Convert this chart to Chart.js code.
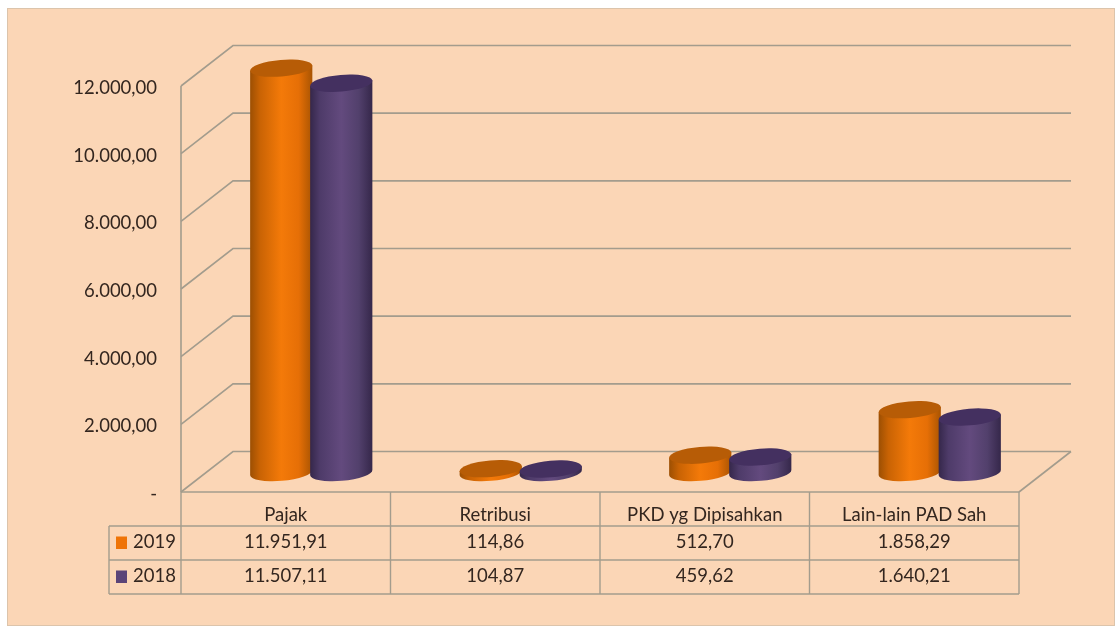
<!DOCTYPE html>
<html><head><meta charset="utf-8">
<style>html,body{margin:0;padding:0;background:#fff}canvas{display:block}</style>
<script src="https://cdn.jsdelivr.net/npm/chart.js@4"></script>
</head><body>
<canvas id="c" width="1118" height="626"></canvas>
<script>
const categories = ["Pajak", "Retribusi", "PKD yg Dipisahkan", "Lain-lain PAD Sah"];
const values2019 = [11951.91, 114.86, 512.70, 1858.29];
const values2018 = [11507.11, 104.87, 459.62, 1640.21];
const seriesNames = ["2019", "2018"];
const yTickLabels = ["-", "2.000,00", "4.000,00", "6.000,00", "8.000,00", "10.000,00", "12.000,00"];
const tableRows2019 = ["11.951,91", "114,86", "512,70", "1.858,29"];
const tableRows2018 = ["11.507,11", "104,87", "459,62", "1.640,21"];

const FAMILY = 'Lato, "Open Sans", sans-serif';
const FONT = '18.5px ' + FAMILY;
const TEXT = '#33261f', GRID = '#a39c8d';
const DEPTH = {x: 52, y: -40.5};
const palette = [
  {base:'#ef7407', top:'#b75c06', stops:['#9c4f03','#c96304','#f47a09','#e66f06','#a85402']},
  {base:'#5b4478', top:'#443060', stops:['#35274a','#4e3b69','#634a7e','#52406c','#35274a']}
];

function line(ctx, x1, y1, x2, y2){ctx.beginPath();ctx.moveTo(x1,y1);ctx.lineTo(x2,y2);ctx.stroke();}

function cylinder(ctx, el, p){
  const cx = el.x + 25.5, topY = el.y + DEPTH.y/2 + 0.8, botY = el.base + DEPTH.y/2 + 0.8;
  const rx = el.width/2, ry = 8.3, rot = -0.085;
  const sx = rx*Math.cos(rot), sy = rx*Math.sin(rot);
  const g = ctx.createLinearGradient(cx-rx,0,cx+rx,0);
  g.addColorStop(0,p.stops[0]);g.addColorStop(.16,p.stops[1]);g.addColorStop(.5,p.stops[2]);
  g.addColorStop(.78,p.stops[3]);g.addColorStop(1,p.stops[4]);
  ctx.fillStyle = g;
  ctx.beginPath();
  ctx.moveTo(cx-sx, topY-sy);
  ctx.lineTo(cx-sx, botY-sy);
  ctx.ellipse(cx, botY, rx, ry, rot, Math.PI, 0, true);
  ctx.lineTo(cx+sx, topY+sy);
  ctx.closePath();
  ctx.fill();
  ctx.fillStyle = p.top;
  ctx.beginPath();
  ctx.ellipse(cx, topY, rx, ry, rot, 0, Math.PI*2);
  ctx.fill();
}

const scene = {
  id:'scene',
  beforeDraw(chart){
    const {ctx, chartArea:a, scales:{y}} = chart;
    ctx.save();
    ctx.fillStyle='#fff';ctx.fillRect(0,0,chart.width,chart.height);
    ctx.fillStyle='#fbd6b6';ctx.fillRect(7,8,1108,617);
    ctx.strokeStyle='#dcc4ab';ctx.lineWidth=1;ctx.strokeRect(7.5,8.5,1107,617);
    ctx.strokeStyle=GRID;ctx.lineWidth=1.6;
    y.ticks.forEach(t=>{
      const py=y.getPixelForValue(t.value);
      ctx.beginPath();ctx.moveTo(a.left,py);ctx.lineTo(a.left+DEPTH.x,py+DEPTH.y);ctx.lineTo(a.right+DEPTH.x,py+DEPTH.y);ctx.stroke();
    });
    line(ctx,a.left,a.top,a.left,a.bottom);
    line(ctx,a.right,a.bottom,a.right+DEPTH.x,a.bottom+DEPTH.y);
    ctx.restore();
  },
  beforeDatasetsDraw(chart){
    const ctx=chart.ctx;
    ctx.save();
    chart.data.datasets.forEach((d,i)=>{
      chart.getDatasetMeta(i).data.forEach(el=>cylinder(ctx,el,palette[i]));
    });
    ctx.restore();
    return false;
  },
  afterDraw(chart){
    const {ctx, chartArea:a, scales:{x}} = chart;
    const rows=[a.bottom,a.bottom+34,a.bottom+68,a.bottom+102], legendX=109;
    const n=categories.length, cw=(a.right-a.left)/n;
    ctx.save();
    ctx.strokeStyle=GRID;ctx.lineWidth=1.4;
    line(ctx,a.left,rows[0],a.right,rows[0]);
    line(ctx,legendX,rows[1],a.right,rows[1]);
    line(ctx,legendX,rows[2],a.right,rows[2]);
    line(ctx,legendX,rows[3],a.right,rows[3]);
    line(ctx,legendX,rows[1],legendX,rows[3]);
    for(let i=0;i<=n;i++){const px=a.left+i*cw;line(ctx,px,rows[0],px,rows[3]);}
    ctx.font=FONT;ctx.fillStyle=TEXT;ctx.textBaseline='middle';
    [tableRows2019,tableRows2018].forEach((vals,r)=>{
      const my=(rows[r+1]+rows[r+2])/2-1;
      ctx.fillStyle=palette[r].base;ctx.fillRect(116,my-5.5,11,12.5);
      ctx.fillStyle=TEXT;ctx.textAlign='left';ctx.fillText(seriesNames[r],133,my);
      ctx.textAlign='center';
      vals.forEach((v,i)=>ctx.fillText(v,x.getPixelForTick(i),my));
    });
    ctx.restore();
  }
};

new Chart(document.getElementById('c'),{
  type:'bar',
  data:{labels:categories,datasets:[
    {label:seriesNames[0],data:values2019,backgroundColor:palette[0].base},
    {label:seriesNames[1],data:values2018,backgroundColor:palette[1].base}
  ]},
  options:{
    responsive:false,animation:false,
    barPercentage:1.04,categoryPercentage:0.573,
    layout:{padding:{top:86,right:99,left:0,bottom:0}},
    plugins:{legend:{display:false},tooltip:{enabled:false},title:{display:false}},
    scales:{
      x:{
        grid:{display:false},border:{display:false},
        ticks:{color:TEXT,font:{family:FAMILY,size:18.5},padding:4,maxRotation:0,autoSkip:false},
        afterFit(s){s.height=134;}
      },
      y:{
        min:0,max:12000,
        grid:{display:false},border:{display:false},
        afterFit(s){s.width=181;},
        ticks:{stepSize:2000,color:TEXT,font:{family:FAMILY,size:18.5},padding:16,labelOffset:2,
          callback(v){return yTickLabels[v/2000];}}
      }
    }
  },
  plugins:[scene]
});
</script>
</body></html>
